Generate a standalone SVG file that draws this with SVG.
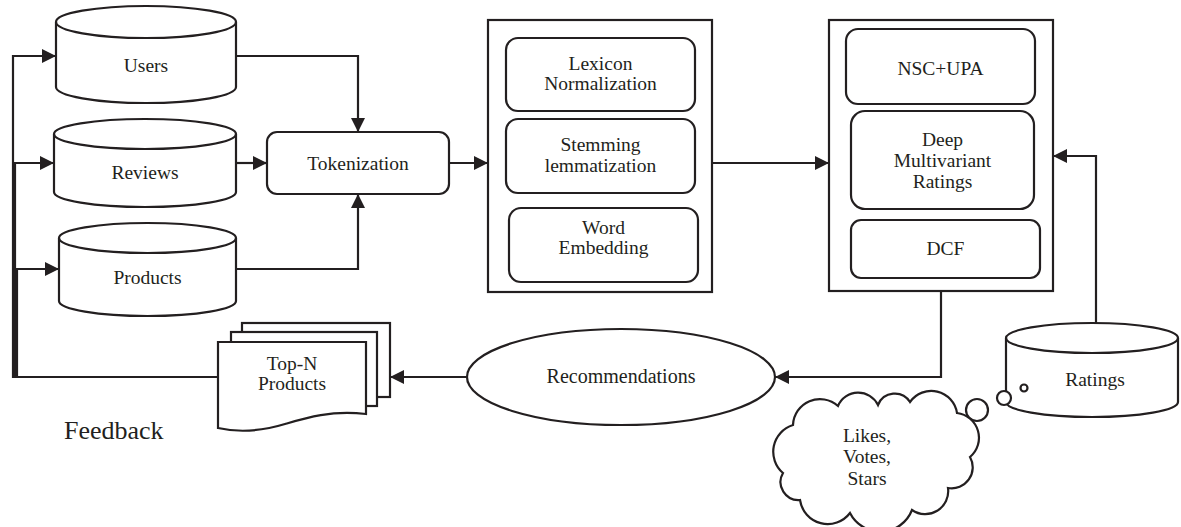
<svg xmlns="http://www.w3.org/2000/svg" width="1181" height="527" viewBox="0 0 1181 527">
<style>
.s{fill:none;stroke:#231f20;stroke-width:2.2;stroke-linejoin:miter}
.w{fill:#fff;stroke:#231f20;stroke-width:2.2}
.t{font-family:"Liberation Serif","Times New Roman",serif;font-size:19.5px;fill:#231f20;text-anchor:middle}
.c{fill:none;stroke:#231f20;stroke-width:2.2;marker-end:url(#ah)}
</style>
<defs>
<marker id="ah" markerUnits="userSpaceOnUse" markerWidth="15" markerHeight="15" refX="14" refY="7" orient="auto">
<path d="M0,0 L14,7 L0,14 Z" fill="#231f20"/>
</marker>
</defs>
<rect width="1181" height="527" fill="#fff"/>

<g id="connectors">
<path class="c" d="M218,377 H13 V56 H56"/>
<path class="c" d="M218,377 H15 V163 H54"/>
<path class="c" d="M218,377 H17 V269 H59"/>
<path class="c" d="M236,56 H358 V132"/>
<path class="c" d="M236,163 H267"/>
<path class="c" d="M236,269 H358 V194"/>
<path class="c" d="M449,163 H488"/>
<path class="c" d="M712,163 H829"/>
<path class="c" d="M1096,323 V156 H1053"/>
<path class="c" d="M941,291 V377 H775"/>
<path class="c" d="M467,377 H390"/>
<path class="s" d="M468,371 V383"/>
</g>

<g id="users">
<path class="w" d="M56,22 V87 A90,16 0 0 0 236,87 V22 A90,16 0 0 0 56,22 Z"/>
<path class="s" d="M56,22 A90,16 0 0 0 236,22"/>
<text class="t" x="146" y="71.5">Users</text>
</g>

<g id="reviews">
<path class="w" d="M54,134 V192 A91,15 0 0 0 236,192 V134 A91,15 0 0 0 54,134 Z"/>
<path class="s" d="M54,134 A91,15 0 0 0 236,134"/>
<text class="t" x="145" y="178.5">Reviews</text>
</g>

<g id="products">
<path class="w" d="M59,238 V301 A88.5,15 0 0 0 236,301 V238 A88.5,15 0 0 0 59,238 Z"/>
<path class="s" d="M59,238 A88.5,15 0 0 0 236,238"/>
<text class="t" x="147.5" y="283.5">Products</text>
</g>

<g id="tokenization">
<rect class="w" x="267" y="132" width="182" height="62" rx="10"/>
<text class="t" x="358" y="169.5">Tokenization</text>
</g>

<g id="preprocessing">
<rect class="w" x="488" y="20" width="224" height="272"/>
<rect class="w" x="506" y="38" width="189" height="73" rx="12"/>
<text class="t" x="600.5" y="69.5">Lexicon</text>
<text class="t" x="600.5" y="89.5">Normalization</text>
<rect class="w" x="506" y="119" width="189" height="74" rx="12"/>
<text class="t" x="600.5" y="150.5">Stemming</text>
<text class="t" x="600.5" y="171.5">lemmatization</text>
<rect class="w" x="509" y="208" width="189" height="74" rx="12"/>
<text class="t" x="603.5" y="233.5">Word</text>
<text class="t" x="603.5" y="253.5">Embedding</text>
</g>

<g id="models">
<rect class="w" x="829" y="20" width="224" height="271"/>
<rect class="w" x="846" y="29" width="189" height="75" rx="12"/>
<text class="t" x="940.5" y="74.5">NSC+UPA</text>
<rect class="w" x="851" y="111" width="183" height="98" rx="14"/>
<text class="t" x="942.5" y="145.5">Deep</text>
<text class="t" x="942.5" y="166.5">Multivariant</text>
<text class="t" x="942.5" y="187.5">Ratings</text>
<rect class="w" x="851" y="220" width="189" height="58" rx="10"/>
<text class="t" x="945.5" y="254.5">DCF</text>
</g>

<g id="ratings">
<path class="w" d="M1006,338 V402 A86,15 0 0 0 1178,402 V338 A86,15 0 0 0 1006,338 Z"/>
<path class="s" d="M1006,338 A86,15 0 0 0 1178,338"/>
<text class="t" x="1095" y="385.5">Ratings</text>
</g>

<g id="thought">
<circle class="w" cx="1004" cy="398" r="7"/>
<circle class="w" cx="1024" cy="388" r="3.5"/>
<circle class="w" cx="977" cy="410" r="11"/>
<path class="w" d="M793,425 A27,27 0 0 1 838,406 A22,22 0 0 1 878,405 A18,18 0 0 1 910,402 A26,26 0 0 1 957,413 A25,25 0 0 1 970,457 A21,21 0 0 1 948,488 A23,23 0 0 1 912,510 A34,34 0 0 1 850,513 A28,28 0 0 1 800,500 A18,18 0 0 1 783,473 A28,28 0 0 1 793,425 Z"/>
<text class="t" x="867" y="441.5">Likes,</text>
<text class="t" x="867" y="463">Votes,</text>
<text class="t" x="867" y="484.5">Stars</text>
</g>

<g id="recommendations">
<ellipse class="w" cx="621" cy="377" rx="154" ry="48"/>
<text class="t" x="621" y="383" style="font-size:20px">Recommendations</text>
</g>

<g id="topn">
<rect class="w" x="242" y="323" width="148" height="74"/>
<rect class="w" x="231" y="332" width="146" height="74"/>
<path class="w" d="M218,342 H366 V414 C330,410 305,418 285,424 C262,431 240,433 218,428 Z"/>
<text class="t" x="292" y="369.5">Top-N</text>
<text class="t" x="292" y="389.5">Products</text>
</g>

<text id="feedback" x="64" y="439" style="font-family:'Liberation Serif','Times New Roman',serif;font-size:26px;fill:#231f20">Feedback</text>
</svg>
